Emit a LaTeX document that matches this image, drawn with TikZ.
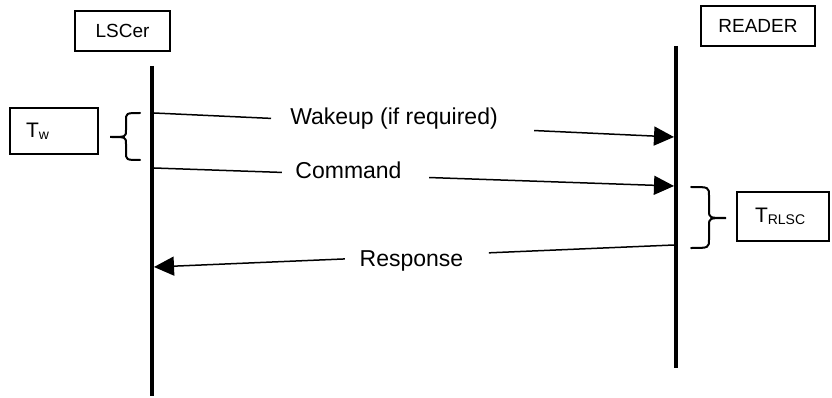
\documentclass[tikz,border=0pt]{standalone}
\usepackage{fontspec}
\setmainfont{Liberation Sans}
\usetikzlibrary{arrows.meta,calc}
\tikzset{
  actorbox/.style={draw, line width=1.4pt, minimum height=40pt, inner sep=0pt, font=\fontsize{19}{19}\selectfont},
  timebox/.style={draw, line width=1.4pt, inner ysep=0pt, align=left},
  lifeline/.style={line width=4pt},
  msg/.style={line width=1.5pt},
  msgarrow/.style={line width=1.5pt, -{Triangle[length=20pt,width=19pt]}},
  msglabel/.style={inner sep=0pt, font=\fontsize{23}{23}\selectfont},
  bracestyle/.style={line width=2pt, line cap=round}
}
\newcommand{\Tsym}[1]{{\fontsize{21}{21}\selectfont T}\raisebox{-2pt}{\fontsize{14}{14}\selectfont #1}}
\begin{document}
\begin{tikzpicture}[x=1pt,y=1pt]
\useasboundingbox (0,0) rectangle (832,-398);
% actors
\node[actorbox, minimum width=95pt] (lscer) at (122.5,-31) {LSCer};
\node[actorbox, minimum width=114pt] (reader) at (758,-26) {READER};
% lifelines
\coordinate (lA) at (152,-66);
\coordinate (lB) at (152,-396);
\coordinate (rA) at (676,-46);
\coordinate (rB) at (676,-368);
\draw[lifeline] (lA) -- (lB);
\draw[lifeline] (rA) -- (rB);
% message endpoints
\coordinate (ws) at (154,-113);
\coordinate (we) at (674,-137);
\coordinate (cs) at (154,-168);
\coordinate (ce) at (674,-186);
\coordinate (rs) at (674,-245);
\coordinate (re) at (154,-267);
% Wakeup
\draw[msg] (ws) -- ($(ws)!0.225!(we)$);
\draw[msgarrow] ($(ws)!0.731!(we)$) -- (we);
\node[msglabel] (wlab) at (394,-119) {Wakeup (if required)};
% Command
\draw[msg] (cs) -- ($(cs)!0.246!(ce)$);
\draw[msgarrow] ($(cs)!0.529!(ce)$) -- (ce);
\node[msglabel] (clab) at (348.5,-170) {Command};
% Response
\draw[msg] (rs) -- ($(rs)!0.356!(re)$);
\draw[msgarrow] ($(rs)!0.633!(re)$) -- (re);
\node[msglabel] (rlab) at (411.5,-261) {Response};
% Tw
\node[timebox, inner xsep=16pt, text width=56pt, minimum height=46pt] (tw) at (54,-131) {\Tsym{w}};
\draw[bracestyle] (140,-113) .. controls (126,-113) .. (126,-121) -- (126,-130)
  .. controls (126,-137) .. (110,-137) .. controls (126,-137) .. (126,-144)
  -- (126,-152) .. controls (126,-160) .. (140,-160);
% TRLSC
\node[timebox, inner xsep=18pt, text width=56pt, minimum height=49pt] (trlsc) at (783,-216.5) {\Tsym{RLSC}};
\draw[bracestyle] (691,-187) .. controls (709,-187) .. (709,-196) -- (709,-210)
  .. controls (709,-218) .. (726,-218) .. controls (709,-218) .. (709,-226)
  -- (709,-239) .. controls (709,-248) .. (691,-248);
\end{tikzpicture}
\end{document}
